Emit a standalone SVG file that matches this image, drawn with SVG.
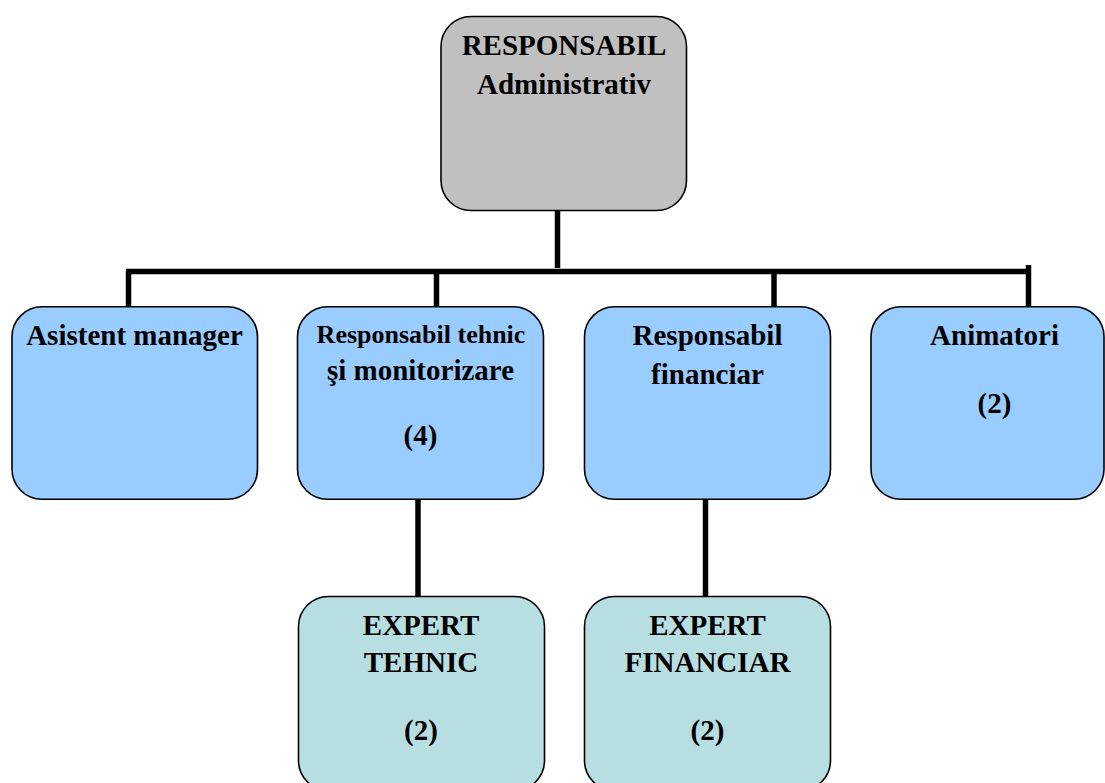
<svg xmlns="http://www.w3.org/2000/svg" width="1105" height="783" viewBox="0 0 1105 783">
<style>
.box{stroke:#000;stroke-width:1.6}
.gray{fill:#C0C0C0}
.blue{fill:#99CCFF}
.teal{fill:#B7DFE2}
text{font-family:"Liberation Serif","Times New Roman",serif;font-weight:bold;font-size:29px;fill:#000;text-anchor:middle}
.sm{font-size:26px}
.conn line{stroke:#000;stroke-width:5.5}
</style>
<rect width="1105" height="783" fill="#fff"/>
<g class="conn" id="connectors">
<line x1="557.5" y1="210" x2="557.5" y2="268"/>
<line x1="126" y1="271.5" x2="1031" y2="271.5"/>
<line x1="128.5" y1="271.5" x2="128.5" y2="306"/>
<line x1="436.5" y1="271.5" x2="436.5" y2="306"/>
<line x1="774" y1="271.5" x2="774" y2="306"/>
<line x1="1028.5" y1="265" x2="1028.5" y2="306"/>
<line x1="418" y1="499" x2="418" y2="597"/>
<line x1="705.5" y1="499" x2="705.5" y2="597"/>
</g>
<g id="n-admin">
<rect class="box gray" x="441" y="16.5" width="245.5" height="194" rx="30"/>
<text x="564" y="55">RESPONSABIL</text>
<text x="564" y="94">Administrativ</text>
</g>
<g id="n-asistent">
<rect class="box blue" x="12" y="306.8" width="245.5" height="192.5" rx="30"/>
<text x="134.5" y="345">Asistent manager</text>
</g>
<g id="n-tehnic">
<rect class="box blue" x="297.5" y="306.8" width="246" height="192.5" rx="30"/>
<text class="sm" x="421" y="343">Responsabil tehnic</text>
<text x="420.5" y="380">şi monitorizare</text>
<text x="420.5" y="445">(4)</text>
</g>
<g id="n-financiar">
<rect class="box blue" x="584.5" y="306.8" width="246" height="192.5" rx="30"/>
<text x="707.5" y="345">Responsabil</text>
<text x="707.5" y="384">financiar</text>
</g>
<g id="n-animatori">
<rect class="box blue" x="871" y="306.8" width="233" height="192.5" rx="30"/>
<text x="994.5" y="345">Animatori</text>
<text x="994.5" y="413">(2)</text>
</g>
<g id="n-expert-tehnic">
<rect class="box teal" x="298.5" y="596.5" width="246" height="194" rx="30"/>
<text x="421" y="635">EXPERT</text>
<text x="421" y="672">TEHNIC</text>
<text x="421" y="740">(2)</text>
</g>
<g id="n-expert-financiar">
<rect class="box teal" x="584.5" y="596.5" width="246" height="194" rx="30"/>
<text x="707.5" y="635">EXPERT</text>
<text x="707.5" y="672">FINANCIAR</text>
<text x="707.5" y="740">(2)</text>
</g>
</svg>
